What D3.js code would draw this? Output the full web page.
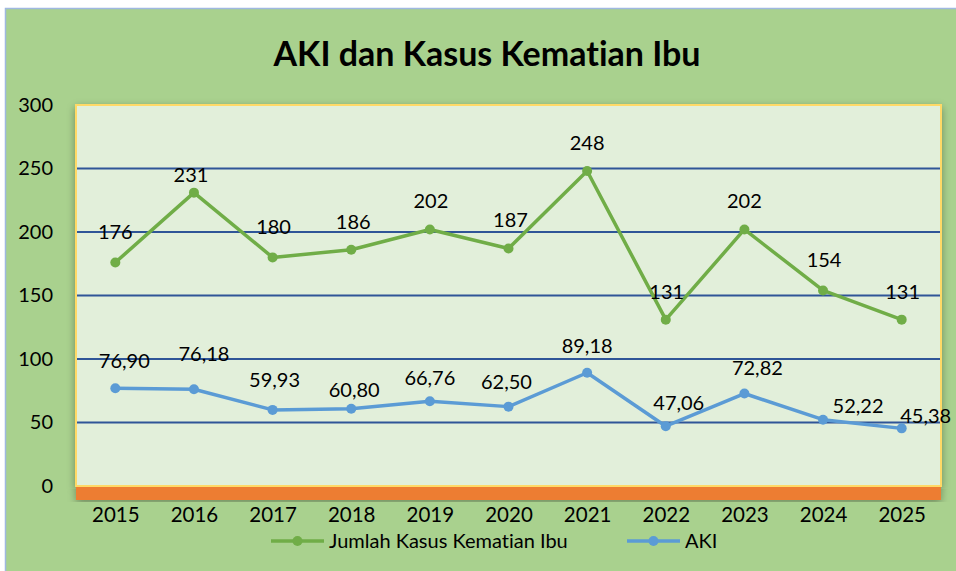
<!DOCTYPE html>
<html><head><meta charset="utf-8">
<script src="https://cdn.jsdelivr.net/npm/d3@7/dist/d3.min.js"></script>
<style>body{margin:0;background:#fff;}svg{display:block;}text{font-variant-ligatures:none;font-feature-settings:"liga" 0;}</style>
</head><body>
<svg id="c" width="956" height="571"></svg>
<script>
const years = ["2015","2016","2017","2018","2019","2020","2021","2022","2023","2024","2025"];
const kasus = [176,231,180,186,202,187,248,131,202,154,131];
const aki = [76.90,76.18,59.93,60.80,66.76,62.50,89.18,47.06,72.82,52.22,45.38];
const yTicks = [0,50,100,150,200,250,300];
const seriesNames = ["Jumlah Kasus Kematian Ibu","AKI"];
const title = "AKI dan Kasus Kematian Ibu";

// manual data-label nudges (pixels) as placed in the original chart
const kasusLabelDx = [0,-3,1,2,1,2,0,1,0,1,1];
const kasusLabelDy = [-23,-11,-23,-21,-21,-22,-21,-21,-21,-23,-21];
const akiLabelDx = [9,10,2,3,0,-2,0,13,13,35,24];
const akiLabelDy = [-20,-28,-23,-12,-16,-18,-20,-16,-19,-7,-5];

const svg = d3.select("#c");
const F = "Lato, 'Open Sans', sans-serif";
const defs = svg.append("defs");
const sh = defs.append("filter").attr("id","sh").attr("x","-5%").attr("y","-5%").attr("width","110%").attr("height","115%");
sh.append("feGaussianBlur").attr("in","SourceAlpha").attr("stdDeviation",4);
sh.append("feOffset").attr("dx",0).attr("dy",3).attr("result","b");
sh.append("feComponentTransfer").append("feFuncA").attr("type","linear").attr("slope",0.35);
const m = sh.append("feMerge"); m.append("feMergeNode"); m.append("feMergeNode").attr("in","SourceGraphic");

// outer background
svg.append("rect").attr("x",5.5).attr("y",8.5).attr("width",960).attr("height",570)
  .attr("fill","#a9d18e").attr("stroke","#9fb8e0").attr("stroke-width",1.5);

const L = 76, R = 941, T = 105, B = 486;
const x = d3.scalePoint().domain(years).range([L,R]).padding(0.5);
const y = d3.scaleLinear().domain([0,300]).range([B,T]);

// plot area
svg.append("rect").attr("x",L).attr("y",T).attr("width",R-L).attr("height",B-T)
  .attr("fill","#e2efda").attr("stroke","#ffd966").attr("stroke-width",2).attr("filter","url(#sh)");
// floor
svg.append("rect").attr("x",L).attr("y",B+1).attr("width",R-L).attr("height",13)
  .attr("fill","#ed7d31").attr("filter","url(#sh)");

// gridlines
svg.append("g").selectAll("line").data(yTicks.filter(d=>d>0 && d<300)).join("line")
  .attr("x1",L+1).attr("x2",R-1).attr("y1",d=>y(d)).attr("y2",d=>y(d))
  .attr("stroke","#2f5597").attr("stroke-width",2);

// y axis
const ya = svg.append("g").attr("transform",`translate(${L},0)`)
  .call(d3.axisLeft(y).tickValues(yTicks).tickSize(0).tickPadding(23));
ya.select(".domain").remove();
ya.selectAll("text").attr("font-family",F).attr("font-size",20).attr("fill","#000");

// x axis
const xa = svg.append("g").attr("transform",`translate(0,${B})`)
  .call(d3.axisBottom(x).tickSize(0).tickPadding(21));
xa.select(".domain").remove();
xa.selectAll("text").attr("font-family",F).attr("font-size",20.5).attr("fill","#000");

// title
svg.append("text").attr("x",487).attr("y",66).attr("text-anchor","middle")
  .attr("font-family",F).attr("font-weight","bold").attr("font-size",34).attr("fill","#000").text(title);

const series = [
  {name:seriesNames[0], vals:kasus, color:"#70ad47", fmt:d=>String(d), dx:kasusLabelDx, dy:kasusLabelDy},
  {name:seriesNames[1], vals:aki, color:"#5b9bd5", fmt:d=>d.toFixed(2).replace(".",","), dx:akiLabelDx, dy:akiLabelDy}
];
const line = d3.line().x((d,i)=>x(years[i])).y(d=>y(d));
series.forEach(s=>{
  svg.append("path").attr("d",line(s.vals)).attr("fill","none").attr("stroke",s.color)
    .attr("stroke-width",3.5).attr("stroke-linejoin","round");
  svg.append("g").selectAll("circle").data(s.vals).join("circle")
    .attr("cx",(d,i)=>x(years[i])).attr("cy",d=>y(d)).attr("r",5).attr("fill",s.color);
  svg.append("g").selectAll("text").data(s.vals).join("text")
    .attr("x",(d,i)=>x(years[i]) + s.dx[i])
    .attr("y",(d,i)=>y(d) + s.dy[i])
    .attr("text-anchor","middle").attr("font-family",F).attr("font-size",20).attr("fill","#000")
    .text(s.fmt);
});

// legend
const lg = [{x:271,s:series[0]},{x:627,s:series[1]}];
lg.forEach(l=>{
  const g = svg.append("g").attr("transform",`translate(${l.x},541)`);
  g.append("line").attr("x1",0).attr("x2",53).attr("stroke",l.s.color).attr("stroke-width",3.5);
  g.append("circle").attr("cx",26.5).attr("r",5).attr("fill",l.s.color);
  g.append("text").attr("x",58).attr("y",7).attr("font-family",F).attr("font-size",20).attr("fill","#000").text(l.s.name);
});
</script>
</body></html>
